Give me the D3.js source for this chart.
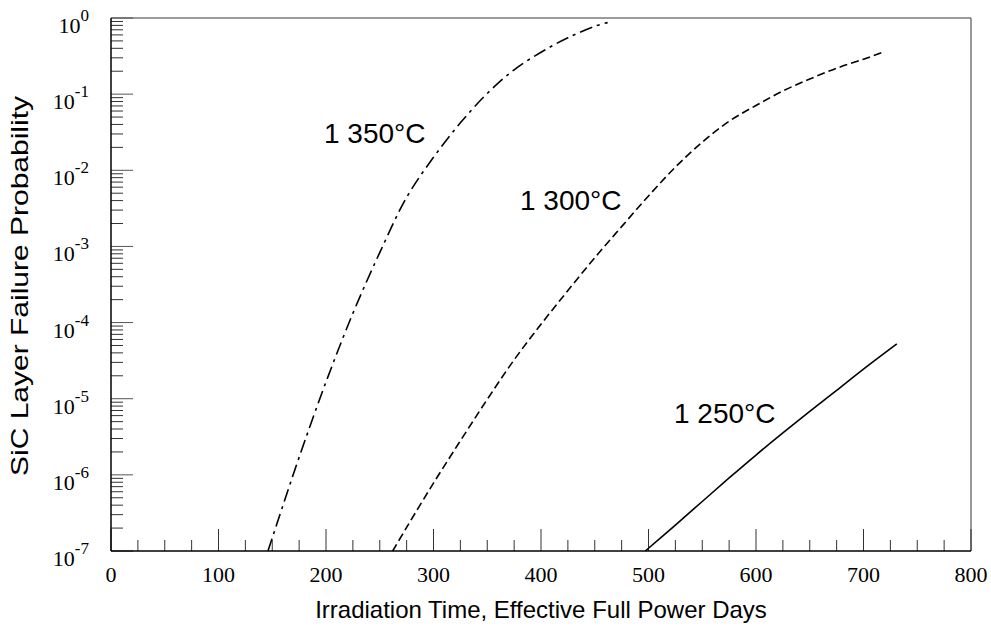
<!DOCTYPE html>
<html>
<head>
<meta charset="utf-8">
<script src="https://cdn.jsdelivr.net/npm/d3@7"></script>
<style>
  body { margin: 0; background: #fff; }
  svg { display: block; }
</style>
</head>
<body>
<svg width="991" height="628"></svg>
<script>
// irradiation time (EFPD) and failure probability
var days1350 = [146, 160, 175, 200, 225, 250, 275, 300, 325, 350, 375, 400, 425, 450, 462];
var prob1350 = [1e-7, 3.98e-7, 1.70e-6, 1.66e-5, 1.32e-4, 8.3e-4, 4.4e-3, 1.48e-2, 4.2e-2, 0.102, 0.209, 0.355, 0.55, 0.78, 0.87];

var days1300 = [262, 275, 300, 325, 350, 375, 400, 425, 450, 475, 500, 525, 550, 575, 600, 625, 650, 675, 700, 718];
var prob1300 = [1e-7, 2.04e-7, 7.8e-7, 2.8e-6, 9.8e-6, 3.24e-5, 9.5e-5, 2.63e-4, 7.1e-4, 1.82e-3, 4.6e-3, 1.10e-2, 2.34e-2, 4.4e-2, 7.1e-2, 0.110, 0.158, 0.219, 0.288, 0.355];

var days1250 = [497, 525, 550, 575, 600, 625, 650, 675, 700, 731];
var prob1250 = [1e-7, 2.19e-7, 4.47e-7, 9.1e-7, 1.82e-6, 3.55e-6, 6.8e-6, 1.29e-5, 2.45e-5, 5.25e-5];

var xMajorTicks = [0, 100, 200, 300, 400, 500, 600, 700, 800];
var yExponents = [0, -1, -2, -3, -4, -5, -6, -7];

var svg = d3.select('svg');
var plotLeft = 111, plotRight = 971, plotTop = 18, plotBottom = 551;

var x = d3.scaleLinear().domain([0, 800]).range([plotLeft, plotRight]);
var y = d3.scaleLog().domain([1e-7, 1]).range([plotBottom, plotTop]);

// minor x ticks every 25 days
var xMinor = d3.range(0, 801, 25).filter(function (d) { return d % 100 !== 0; });
// minor y ticks 2..9 per decade
var yMinor = [];
yExponents.slice(0, -1).forEach(function (e) {
    for (var m = 2; m <= 9; m++) yMinor.push(m * Math.pow(10, e - 1));
});

var tickColor = '#333';

// frame: top and right gray
svg.append('line').attr('x1', plotLeft).attr('x2', plotRight).attr('y1', plotTop).attr('y2', plotTop)
    .attr('stroke', '#7a7a7a').attr('stroke-width', 1.5);
svg.append('line').attr('x1', plotRight).attr('x2', plotRight).attr('y1', plotTop).attr('y2', plotBottom)
    .attr('stroke', '#555').attr('stroke-width', 1.2);

// x axis ticks (pointing inward)
svg.selectAll('.xminor').data(xMinor).enter().append('line')
    .attr('x1', function (d) { return x(d); }).attr('x2', function (d) { return x(d); })
    .attr('y1', plotBottom).attr('y2', plotBottom - 11)
    .attr('stroke', tickColor).attr('stroke-width', 1);
svg.selectAll('.xmajor').data(xMajorTicks).enter().append('line')
    .attr('x1', function (d) { return x(d); }).attr('x2', function (d) { return x(d); })
    .attr('y1', plotBottom).attr('y2', plotBottom - 22)
    .attr('stroke', tickColor).attr('stroke-width', 1);
svg.selectAll('.xlab').data(xMajorTicks).enter().append('text')
    .attr('x', function (d) { return x(d); }).attr('y', 582)
    .attr('text-anchor', 'middle')
    .attr('font-family', '"Liberation Serif", "Times New Roman", serif')
    .attr('font-size', 22).attr('fill', '#000')
    .text(function (d) { return d; });

// y axis ticks
svg.selectAll('.yminor').data(yMinor).enter().append('line')
    .attr('x1', plotLeft).attr('x2', plotLeft + 12)
    .attr('y1', function (d) { return y(d); }).attr('y2', function (d) { return y(d); })
    .attr('stroke', tickColor).attr('stroke-width', 1);
svg.selectAll('.ymajor').data(yExponents).enter().append('line')
    .attr('x1', plotLeft).attr('x2', plotLeft + 22)
    .attr('y1', function (e) { return y(Math.pow(10, e)); }).attr('y2', function (e) { return y(Math.pow(10, e)); })
    .attr('stroke', '#555').attr('stroke-width', 1);
var ylab = svg.selectAll('.ylab').data(yExponents).enter().append('text')
    .attr('x', 89).attr('y', function (e) { return y(Math.pow(10, e)) + 15; })
    .attr('text-anchor', 'end')
    .attr('font-family', '"Liberation Serif", "Times New Roman", serif')
    .attr('font-size', 22).attr('fill', '#000');
ylab.append('tspan').text('10');
ylab.append('tspan').attr('dy', -12).attr('font-size', 17)
    .text(function (e) { return e === 0 ? '0' : '-' + Math.abs(e); });

// left and bottom axis lines
svg.append('line').attr('x1', plotLeft).attr('x2', plotLeft).attr('y1', plotTop).attr('y2', plotBottom)
    .attr('stroke', '#000').attr('stroke-width', 1.5);
svg.append('line').attr('x1', plotLeft).attr('x2', plotRight).attr('y1', plotBottom).attr('y2', plotBottom)
    .attr('stroke', '#000').attr('stroke-width', 1.5);

// curves
var line = d3.line()
    .x(function (d) { return x(d[0]); })
    .y(function (d) { return y(d[1]); })
    .curve(d3.curveCatmullRom.alpha(0.5));

var series = [
    { days: days1350, prob: prob1350, dash: '13,5,3,5', name: '1 350°C', lx: 324, ly: 143 },
    { days: days1300, prob: prob1300, dash: '8,4', name: '1 300°C', lx: 520, ly: 210 },
    { days: days1250, prob: prob1250, dash: null, name: '1 250°C', lx: 674, ly: 423 }
];

series.forEach(function (s) {
    var pts = s.days.map(function (d, i) { return [d, s.prob[i]]; });
    svg.append('path').datum(pts)
        .attr('d', line)
        .attr('fill', 'none')
        .attr('stroke', '#000')
        .attr('stroke-width', 1.6)
        .attr('stroke-dasharray', s.dash);
    svg.append('text')
        .attr('x', s.lx).attr('y', s.ly)
        .attr('font-family', '"Liberation Sans", Arial, sans-serif')
        .attr('font-size', 28).attr('fill', '#000')
        .text(s.name);
});

// axis titles
svg.append('text')
    .attr('x', (plotLeft + plotRight) / 2).attr('y', 618)
    .attr('text-anchor', 'middle')
    .attr('font-family', '"Liberation Sans", Arial, sans-serif')
    .attr('font-size', 24).attr('fill', '#000')
    .text('Irradiation Time, Effective Full Power Days');
svg.append('text')
    .attr('transform', 'translate(28,286) rotate(-90)')
    .attr('text-anchor', 'middle')
    .attr('font-family', '"Liberation Sans", Arial, sans-serif')
    .attr('font-size', 24).attr('fill', '#000')
    .attr('textLength', 380).attr('lengthAdjust', 'spacingAndGlyphs')
    .text('SiC Layer Failure Probability');
</script>
</body>
</html>
